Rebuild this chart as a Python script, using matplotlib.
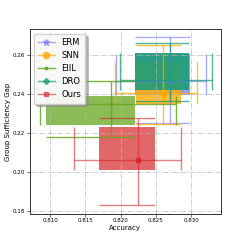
import matplotlib
matplotlib.use("Agg")
import matplotlib.pyplot as plt
from matplotlib.lines import Line2D

methods = ["ERM", "SNN", "EIIL", "DRO", "Ours"]
colors = ["#7373fa", "#ffaa00", "#66a61e", "#1b9e77", "#d62728"]
markers = ["*", "o", ".", "D", "s"]

# medians
med_acc = [0.8270, 0.8260, 0.8187, 0.8270, 0.8225]
med_gap = [0.2469, 0.2405, 0.2349, 0.2474, 0.2063]
# interquartile boxes
q1_acc = [0.8220, 0.8222, 0.8094, 0.8221, 0.8169]
q3_acc = [0.8298, 0.8286, 0.8220, 0.8297, 0.8249]
q1_gap = [0.2395, 0.2349, 0.2241, 0.2422, 0.2010]
q3_gap = [0.2608, 0.2567, 0.2390, 0.2610, 0.2232]
# whiskers
lo_acc = [0.8194, 0.8192, 0.8085, 0.8199, 0.8134]
hi_acc = [0.8321, 0.8308, 0.8279, 0.8329, 0.8285]
lo_gap = [0.2251, 0.2246, 0.2181, 0.2366, 0.1827]
hi_gap = [0.2692, 0.2651, 0.2468, 0.2662, 0.2278]

line_alpha = [0.6, 0.75, 0.85, 0.75, 0.6]
box_alpha = [0.7, 0.8, 0.75, 0.9, 0.7]
msizes = [4, 4, 3, 2.5, 3]

fig = plt.figure(figsize=(2.45, 2.45), dpi=100)
ax = fig.add_axes([0.121, 0.128, 0.780, 0.752])

lw = 1.0
for i, m in enumerate(methods):
    c = colors[i]
    la = line_alpha[i]
    # box
    ax.bar(q1_acc[i], q3_gap[i] - q1_gap[i], width=q3_acc[i] - q1_acc[i],
           bottom=q1_gap[i], align="edge", color=c, alpha=box_alpha[i],
           linewidth=0, zorder=1)
    # whiskers
    ax.vlines(med_acc[i], lo_gap[i], hi_gap[i], color=c, alpha=la, lw=lw, zorder=2)
    ax.hlines(med_gap[i], lo_acc[i], hi_acc[i], color=c, alpha=la, lw=lw, zorder=2)
    # caps
    ax.hlines([lo_gap[i], hi_gap[i]], q1_acc[i], q3_acc[i], color=c, alpha=la, lw=lw, zorder=2)
    ax.vlines([lo_acc[i], hi_acc[i]], q1_gap[i], q3_gap[i], color=c, alpha=la, lw=lw, zorder=2)
    # median
    ax.plot(med_acc[i], med_gap[i], marker=markers[i], color=c, ms=msizes[i],
            alpha=min(1, la + 0.2), linestyle="none", zorder=3)

ax.set_xlim(0.8071, 0.8342)
ax.set_ylim(0.1785, 0.2733)
ax.set_xticks([0.810, 0.815, 0.820, 0.825, 0.830])
ax.set_yticks([0.18, 0.20, 0.22, 0.24, 0.26])
ax.set_xticklabels(["0.810", "0.815", "0.820", "0.825", "0.830"])
ax.set_yticklabels(["0.18", "0.20", "0.22", "0.24", "0.26"])
ax.tick_params(labelsize=4, length=2, width=0.5, pad=1.2, color="#333333")
ax.set_xlabel("Accuracy", fontsize=5, labelpad=1.5)
ax.set_ylabel("Group Sufficiency Gap", fontsize=5, labelpad=1.5)
ax.grid(True, linestyle="-.", color="#b8b8b8", alpha=0.8, lw=0.6)
for s in ax.spines.values():
    s.set_linewidth(0.7)
    s.set_color("#333333")

handles = [Line2D([0], [0], color=colors[i], alpha=line_alpha[i], lw=lw,
                  marker=markers[i], ms=msizes[i] + 0.5) for i in range(len(methods))]
ax.legend(handles, methods, loc="upper left", fontsize=6,
          shadow={"color": "0.55", "alpha": 0.6},
          handlelength=2.0, borderpad=0.5, labelspacing=0.5, handletextpad=0.8,
          borderaxespad=0.5, framealpha=0.9)

fig.savefig("out.png", dpi=100)
